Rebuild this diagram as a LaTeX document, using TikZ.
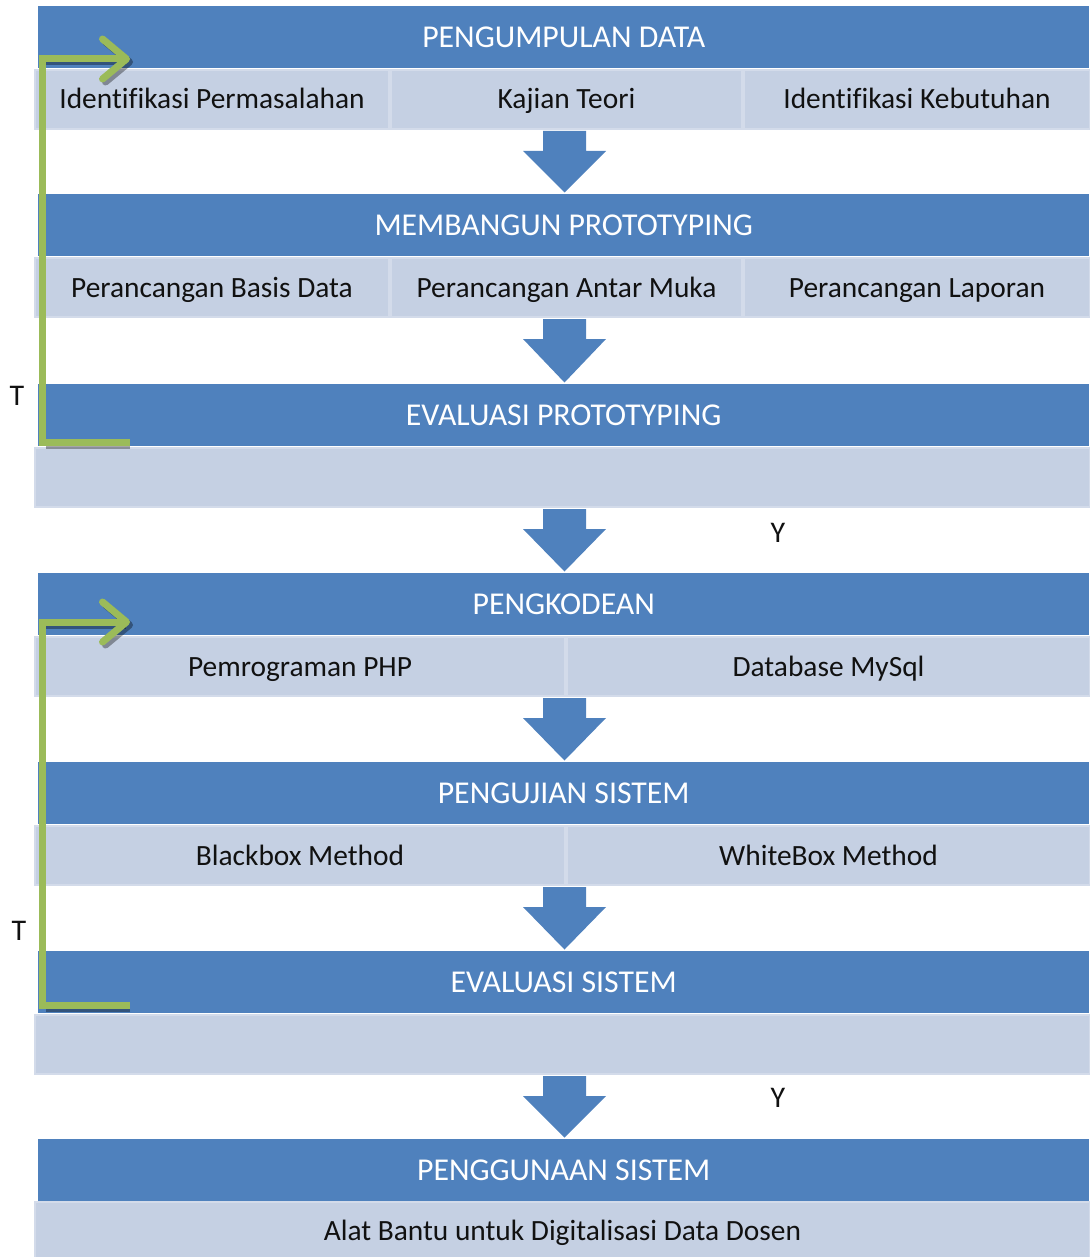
\documentclass[tikz,border=0pt]{standalone}
\usepackage{fontspec}
\setmainfont{Carlito}[Ligatures=NoCommon]
\usetikzlibrary{calc,arrows.meta}
\definecolor{hdrblue}{HTML}{4F81BD}
\definecolor{subfill}{HTML}{C5D0E3}
\definecolor{subedge}{HTML}{D3DBEA}
\definecolor{loopgreen}{HTML}{9BBB59}
\definecolor{txt}{HTML}{111111}
\tikzset{
  hdr/.style={fill=hdrblue, text=white, inner sep=0pt, anchor=north west,
    minimum height=62pt, minimum width=1051pt, text height=20pt, text depth=0pt,
    font=\fontsize{31.8}{35}\selectfont},
  subbox/.style={fill=subfill, draw=subedge, line width=2pt, inner sep=0pt,
    anchor=north west, minimum height=59pt, text=txt,
    text height=19pt, text depth=0pt,
    font=\fontsize{29.4}{33}\selectfont},
  side/.style={text=txt, inner sep=0pt, font=\fontsize{30}{34}\selectfont},
  barb/.style={-{Straight Barb[length=24pt,width=40pt,round]}},
  loopline/.style={draw=loopgreen, line width=7pt, barb},
  loopback/.style={draw=loopgreen, line width=7pt},
  loopshadow/.style={draw=black, draw opacity=0.35, line width=7pt},
}
% block arrow between the bottom of one row and the top of the next header
\newcommand\flowarrow[2]{%
  \path let \p1=(#1.south), \p2=(#2.north) in
    [fill=hdrblue] (543pt,\y1-1pt) -- (586pt,\y1-1pt) -- (586pt,\y1-21pt)
    -- (606pt,\y1-21pt) -- (564.5pt,\y2+1.5pt) -- (523pt,\y1-21pt)
    -- (543pt,\y1-21pt) -- cycle;}
\begin{document}
\begin{tikzpicture}[x=1pt,y=-1pt]
\useasboundingbox (0,0) rectangle (1089,1257);

% ---- stage 1: data collection
\node[hdr] (h1) at (38,6) {PENGUMPULAN DATA};
\node[subbox, minimum width=354pt] (s1a) at (34,69) {Identifikasi Permasalahan};
\node[subbox, minimum width=351pt] (s1b) at (390,69) {Kajian Teori};
\node[subbox, minimum width=346pt] (s1c) at (743,69) {Identifikasi Kebutuhan};

% ---- stage 2: prototype construction
\node[hdr] (h2) at (38,194) {MEMBANGUN PROTOTYPING};
\node[subbox, minimum width=354pt] (s2a) at (34,257) {Perancangan Basis Data};
\node[subbox, minimum width=351pt] (s2b) at (390,257) {Perancangan Antar Muka};
\node[subbox, minimum width=346pt] (s2c) at (743,257) {Perancangan Laporan};

% ---- stage 3: prototype evaluation
\node[hdr] (h3) at (38,384) {EVALUASI PROTOTYPING};
\node[subbox, minimum width=1055pt] (s3) at (34,447) {};

% ---- stage 4: coding
\node[hdr] (h4) at (38,573) {PENGKODEAN};
\node[subbox, minimum width=530pt] (s4a) at (34,636) {Pemrograman PHP};
\node[subbox, minimum width=523pt] (s4b) at (566,636) {Database MySql};

% ---- stage 5: system testing
\node[hdr] (h5) at (38,762) {PENGUJIAN SISTEM};
\node[subbox, minimum width=530pt] (s5a) at (34,825) {Blackbox Method};
\node[subbox, minimum width=523pt] (s5b) at (566,825) {WhiteBox Method};

% ---- stage 6: system evaluation
\node[hdr] (h6) at (38,951) {EVALUASI SISTEM};
\node[subbox, minimum width=1055pt] (s6) at (34,1014) {};

% ---- stage 7: system use
\node[hdr] (h7) at (38,1139) {PENGGUNAAN SISTEM};
\node[subbox, minimum width=1055pt, minimum height=58pt] (s7) at (34,1201)
  {Alat Bantu untuk Digitalisasi Data Dosen};

% ---- flow arrows
\flowarrow{s1b}{h2}
\flowarrow{s2b}{h3}
\flowarrow{s3}{h4}
\flowarrow{s5b}{h6}
\flowarrow{s6}{h7}
\path let \p1=(s4a.south), \p2=(h5.north) in
  [fill=hdrblue] (543pt,\y1-1pt) -- (586pt,\y1-1pt) -- (586pt,\y1-21pt)
  -- (606pt,\y1-21pt) -- (564.5pt,\y2+1.5pt) -- (523pt,\y1-21pt)
  -- (543pt,\y1-21pt) -- cycle;

% ---- decision labels
\node[side] (y1) at (778,533) {Y};
\node[side] (y2) at (778,1098) {Y};
\node[side] (t1) at (17,396) {T};
\node[side] (t2) at (19,931) {T};

% ---- feedback loops (T = not accepted)
\coordinate (l1e) at (130,442);
\coordinate (l1c) at (42.5,442);
\coordinate (l1u) at (42.5,59);
\coordinate (l1s) at (130,59);
\coordinate (l2e) at (130,1005.5);
\coordinate (l2c) at (42.5,1005.5);
\coordinate (l2u) at (42.5,622);
\coordinate (l2s) at (130,622);

\draw[loopshadow] ($(l1e)+(0,3)$) -- ($(l1c)+(3,3)$);
\draw[loopshadow, barb] ($(l1u)+(3,3)$) -- ($(l1s)+(3,3)$);
\draw[loopback] (l1e) -- (l1c) -- ($(l1u)+(0,-3.5)$);
\draw[loopline] ($(l1u)+(-3.5,0)$) -- (l1s);

\draw[loopshadow] ($(l2e)+(0,3)$) -- ($(l2c)+(3,3)$);
\draw[loopshadow, barb] ($(l2u)+(3,3)$) -- ($(l2s)+(3,3)$);
\draw[loopback] (l2e) -- (l2c) -- ($(l2u)+(0,-3.5)$);
\draw[loopline] ($(l2u)+(-3.5,0)$) -- (l2s);
\end{tikzpicture}
\end{document}
